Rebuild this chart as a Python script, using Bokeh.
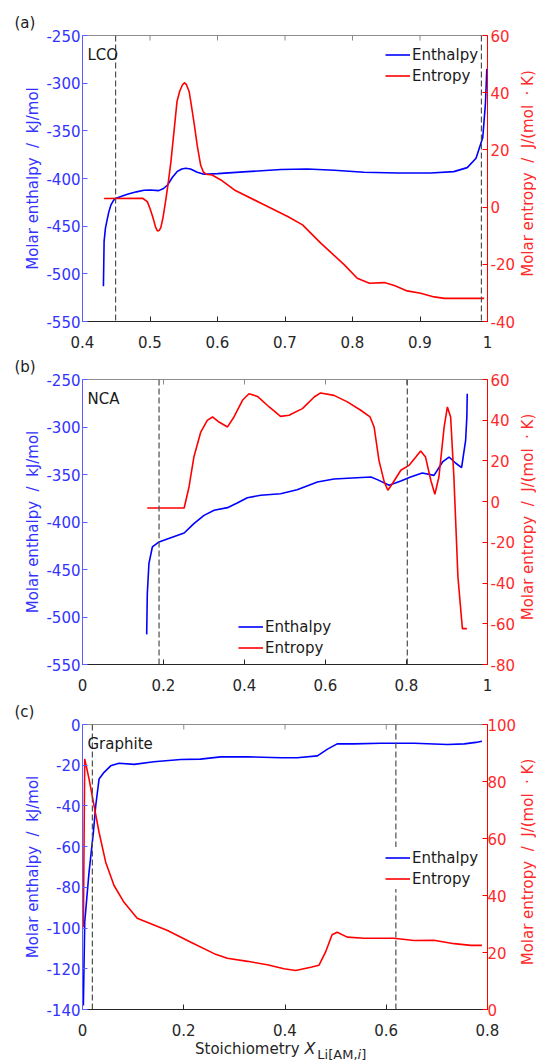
import math
from bokeh.plotting import figure
from bokeh.models import (Range1d, LinearAxis, FixedTicker, CustomJSTickFormatter,
                          Span, Label, Legend, LegendItem, Div)
from bokeh.layouts import column, row
from bokeh.embed import file_html
from bokeh.resources import INLINE

FONT = "DejaVu Sans"
FS = "15px"
BLUE = "#0000ff"
RED = "#ff0000"

# ---------------- Panel (a) LCO ----------------
lco_h_x = [0.431, 0.4315, 0.432, 0.434, 0.436, 0.439, 0.442, 0.446, 0.449, 0.458, 0.4665, 0.48,
           0.491, 0.50, 0.513, 0.520, 0.526, 0.533, 0.540, 0.547, 0.553, 0.560, 0.570, 0.580,
           0.600, 0.644, 0.694, 0.733, 0.773, 0.817, 0.867, 0.916, 0.950, 0.970, 0.983, 0.993,
           0.997, 0.999]
lco_h_y = [-513, -490, -466, -452, -445, -435, -428, -423, -421, -418.5, -416.5, -414,
           -412.3, -412, -412.7, -410.5, -406.8, -399, -392.8, -390, -389.3, -390, -393.5, -395.6,
           -394.9, -392.8, -390.6, -390, -391.4, -393.5, -394.2, -394.2, -392.8, -388.6, -378.8, -357,
           -321, -285]
lco_s_x = [0.432, 0.489, 0.496, 0.500, 0.504, 0.508, 0.511, 0.5135, 0.516, 0.519, 0.523, 0.527,
           0.531, 0.536, 0.540, 0.544, 0.548, 0.551, 0.554, 0.558, 0.561, 0.565, 0.570, 0.575,
           0.579, 0.583, 0.592, 0.605, 0.625, 0.669, 0.704, 0.726, 0.753, 0.788, 0.807, 0.825,
           0.847, 0.862, 0.881, 0.901, 0.921, 0.936, 0.995]
lco_s_y = [3, 3.1, 1.9, -0.5, -3.4, -6.8, -8.3, -8.2, -7.2, -4.0, 1.9, 8.5,
           15.9, 27.5, 36.9, 40.5, 42.7, 43.5, 42.8, 40.4, 36.0, 29.9, 21.5, 14.7,
           12.3, 11.5, 11.2, 9.5, 6.0, 0.8, -3.3, -6.2, -12.6, -20.2, -24.9, -26.6,
           -26.4, -27.4, -29.3, -30.1, -31.4, -31.9, -31.9]
lco_dash = [0.449, 0.991]

# ---------------- Panel (b) NCA ----------------
nca_h_x = [0.1585, 0.160, 0.164, 0.1725, 0.189, 0.218, 0.251, 0.275, 0.300, 0.325, 0.358, 0.382,
           0.407, 0.440, 0.489, 0.530, 0.580, 0.621, 0.712, 0.728, 0.757, 0.786, 0.810, 0.839,
           0.868, 0.889, 0.905, 0.921, 0.936, 0.946, 0.949, 0.950]
nca_h_y = [-518.3, -475.5, -443.9, -426.3, -421, -416.5, -411.6, -401.7, -393, -387.7, -384.9, -380,
           -374.4, -371.9, -370.2, -366, -357.9, -354.7, -352.6, -355.4, -361.4, -356.8, -352.6, -348.4,
           -350.9, -336.8, -331.6, -337.9, -342.8, -314, -289.5, -264.9]
nca_s_x = [0.160, 0.251, 0.263, 0.275, 0.292, 0.308, 0.321, 0.337, 0.358, 0.374, 0.395, 0.411,
           0.432, 0.461, 0.489, 0.510, 0.543, 0.572, 0.588, 0.621, 0.654, 0.687, 0.710, 0.720,
           0.732, 0.745, 0.754, 0.765, 0.786, 0.806, 0.823, 0.835, 0.847, 0.860, 0.870, 0.880,
           0.893, 0.901, 0.909, 0.917, 0.927, 0.938, 0.949]
nca_s_y = [-3.1, -3.1, 7.2, 21.9, 34.2, 39.9, 41.6, 39.1, 36.7, 41.6, 49.8, 53.0,
           51.7, 46.5, 41.9, 42.4, 45.7, 51.4, 53.4, 52.2, 49.0, 44.9, 41.6, 36.7,
           20.3, 9.7, 5.6, 8.8, 15.4, 17.8, 21.9, 24.9, 21.9, 10.5, 3.6, 12.1,
           36.7, 46.5, 41.6, 12.1, -37.0, -62.4, -62.4]
nca_dash = [0.189, 0.802]

# ---------------- Panel (c) Graphite ----------------
gr_h_x = [0.0017, 0.0044, 0.0129, 0.0215, 0.0261, 0.0327, 0.0426, 0.0557, 0.072, 0.102, 0.141,
          0.194, 0.233, 0.273, 0.326, 0.392, 0.424, 0.464, 0.484, 0.503, 0.536, 0.589, 0.655,
          0.721, 0.754, 0.777, 0.789]
gr_h_y = [-138, -97.1, -72.6, -53, -39.9, -26.8, -23.5, -20.3, -19, -19.6, -18.3,
          -17.2, -17, -15.9, -15.9, -16.3, -16.3, -15.4, -12.1, -9.5, -9.5, -9.2, -9.2,
          -9.8, -9.5, -8.8, -8.2]
gr_s_x = [0.0017, 0.0044, 0.0129, 0.0228, 0.0327, 0.0458, 0.0623, 0.082, 0.108, 0.135, 0.168,
          0.214, 0.260, 0.286, 0.326, 0.365, 0.398, 0.421, 0.451, 0.467, 0.480, 0.493, 0.503,
          0.523, 0.556, 0.615, 0.655, 0.694, 0.734, 0.767, 0.789]
gr_s_y = [28.9, 87.9, 80.9, 71.5, 62.2, 51.7, 43.5, 37.6, 32.0, 30.1, 27.7,
          23.6, 19.6, 18.0, 16.9, 15.7, 14.3, 13.7, 14.8, 15.5, 20.1, 26.2, 27.1,
          25.4, 25.0, 25.0, 24.2, 24.3, 23.1, 22.5, 22.5]
gr_dash = [0.0195, 0.619]

# ticks
a_xticks = [0.4, 0.5, 0.6, 0.7, 0.8, 0.9, 1.0]
ab_hticks = [-550, -500, -450, -400, -350, -300, -250]
a_sticks = [-40, -20, 0, 20, 40, 60]
b_xticks = [0, 0.2, 0.4, 0.6, 0.8, 1.0]
b_sticks = [-80, -60, -40, -20, 0, 20, 40, 60]
c_xticks = [0, 0.2, 0.4, 0.6, 0.8]
c_hticks = [-140, -120, -100, -80, -60, -40, -20, 0]
c_sticks = [0, 20, 40, 60, 80, 100]

FMT = "return String(Math.round(tick*1000)/1000);"

H_LABEL = "Molar enthalpy\u00a0\u00a0/\u00a0\u00a0kJ/mol"
S_LABEL = "Molar entropy\u00a0\u00a0/\u00a0\u00a0J/(mol\u00a0\u00a0\u00b7\u00a0K)"


def style_axis(ax, line_c, lab_c, ticks):
    ax.ticker = FixedTicker(ticks=ticks)
    ax.formatter = CustomJSTickFormatter(code=FMT)
    ax.axis_line_color = line_c
    ax.axis_line_width = 1
    ax.major_tick_line_color = line_c
    ax.major_tick_in = 5
    ax.major_tick_out = 0
    ax.minor_tick_line_color = None
    ax.major_label_text_color = lab_c
    ax.major_label_text_font = FONT
    ax.major_label_text_font_size = FS
    ax.axis_label_text_font = FONT
    ax.axis_label_text_font_size = FS
    ax.axis_label_text_font_style = "normal"
    ax.axis_label_text_color = lab_c


def make_panel(tag, name, xr, xticks, hr, hticks, sr, sticks, hx, hy, sx, sy,
               dashes, leg_loc, frame_h, b_top, b_bottom, rb, r_standoff):
    p = figure(frame_width=405, frame_height=frame_h, x_range=Range1d(*xr), y_range=Range1d(*hr),
               output_backend="svg", toolbar_location=None,
               min_border_left=82, min_border_right=rb, min_border_top=b_top,
               min_border_bottom=b_bottom)
    p.extra_y_ranges = {"s": Range1d(*sr)}
    p.grid.visible = False
    p.outline_line_color = "#8c8c8c"
    p.background_fill_color = "white"

    # panel tag as title
    p.title.text = tag
    p.title.align = "left"
    p.title.offset = -68
    p.title.standoff = 8
    p.title.text_font = FONT
    p.title.text_font_size = FS
    p.title.text_font_style = "normal"
    p.title.text_color = "#1a1a1a"

    # bottom axis
    xa = p.xaxis[0]
    style_axis(xa, "#262626", "#262626", xticks)
    xa.major_label_standoff = 14
    # left axis
    ya = p.yaxis[0]
    style_axis(ya, "#5c5cff", "#3333ff", hticks)
    ya.axis_label = H_LABEL
    ya.major_label_standoff = 2
    ya.axis_label_standoff = 1
    # right axis (its title is drawn in the strip beside it)
    ra = LinearAxis(y_range_name="s")
    style_axis(ra, RED, "#ff2a2a", sticks)
    ra.major_label_standoff = r_standoff
    p.add_layout(ra, "right")

    # inward ticks along the top edge of the box
    p.scatter(xticks, [hr[1]] * len(xticks), marker="dash", angle=math.pi / 2, size=10,
              line_color="#8c8c8c", line_width=1)

    for d in dashes:
        p.add_layout(Span(location=d, dimension="height", line_color="#4d4d4d",
                          line_width=1.2, line_dash="6 3"))

    rh = p.line(hx, hy, line_color=BLUE, line_width=1.6)
    rs = p.line(sx, sy, line_color=RED, line_width=1.6, y_range_name="s")

    leg = Legend(items=[LegendItem(label="Enthalpy", renderers=[rh]),
                        LegendItem(label="Entropy", renderers=[rs])],
                 location=leg_loc, padding=0, margin=0, spacing=0,
                 glyph_width=25, glyph_height=21, label_height=21, label_standoff=2,
                 border_line_color=None, background_fill_color="white",
                 background_fill_alpha=1.0,
                 label_text_font=FONT, label_text_font_size=FS, label_text_color="#1a1a1a")
    p.add_layout(leg, "center")

    p.add_layout(Label(x=5, y=frame_h - 19, x_units="screen", y_units="screen",
                       text=name, text_font=FONT, text_font_size=FS, text_color="#1a1a1a",
                       text_baseline="alphabetic", text_align="left"))

    # strip holding the right-hand axis title, reading bottom to top
    qw = 536 - 82 - 405 - rb
    q = figure(frame_width=qw, frame_height=frame_h, x_range=Range1d(0, 1), y_range=Range1d(0, 1),
               output_backend="svg", toolbar_location=None, x_axis_type=None, y_axis_type=None,
               min_border_left=0, min_border_right=0, min_border_top=b_top,
               min_border_bottom=b_bottom)
    q.grid.visible = False
    q.outline_line_color = None
    q.add_layout(Label(x=qw / 2, y=frame_h / 2 + 5, x_units="screen", y_units="screen",
                       text=S_LABEL, angle=math.pi / 2, text_font=FONT, text_font_size=FS,
                       text_color="#ff2a2a", text_align="center", text_baseline="middle"))
    return row(p, q, spacing=0)


pa = make_panel("(a)", "LCO", (0.4, 1.0), a_xticks, (-550, -250), ab_hticks, (-40, 60), a_sticks,
                lco_h_x, lco_h_y, lco_s_x, lco_s_y, lco_dash, (303, 235), 286, 35, 30, 32, 3)
pb = make_panel("(b)", "NCA", (0, 1.0), b_xticks, (-550, -250), ab_hticks, (-80, 60), b_sticks,
                nca_h_x, nca_h_y, nca_s_x, nca_s_y, nca_dash, (156, 6), 285, 27, 32, 32, 3)
pc = make_panel("(c)", "Graphite", (0, 0.8), c_xticks, (-140, 0), c_hticks, (0, 100), c_sticks,
                gr_h_x, gr_h_y, gr_s_x, gr_s_y, gr_dash, (303, 120), 285, 27, 31, 32, 0)

XLABEL_HTML = (
    '<div style="position:absolute; left:195px; top:0px; white-space:nowrap; '
    'font-family:\'DejaVu Sans\'; font-size:15px; line-height:18px; color:#262626;">'
    'Stoichiometry <i style="font-size:16px;">X</i>'
    '<span style="position:relative; top:5px; font-size:13px; margin-left:2px;">'
    'Li[AM,<i>i</i>]</span></div>'
)
xlabel = Div(text=XLABEL_HTML, width=536, height=24, margin=(0, 0, 0, 0),
             styles={"overflow": "hidden", "position": "relative"})

layout = column(pa, pb, pc, xlabel, spacing=0)
open("out.html", "w").write(file_html(layout, INLINE))
